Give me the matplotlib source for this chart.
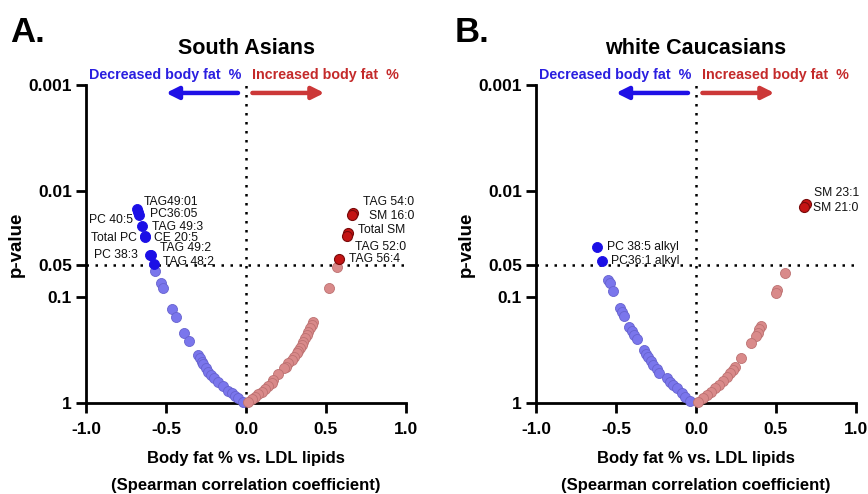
import matplotlib
matplotlib.use('Agg')
import matplotlib.pyplot as plt
import numpy as np

plt.rcParams['axes.unicode_minus'] = False
plt.rcParams['font.family'] = ['Liberation Sans', 'DejaVu Sans']

#%% data: spearman r and -log10(p)
# South Asians
sa_neg_r = [-0.569, -0.533, -0.521, -0.464, -0.4375, -0.386, -0.354, -0.298, -0.2875,
            -0.277, -0.267, -0.25, -0.235, -0.221, -0.2, -0.173, -0.142, -0.111,
            -0.09, -0.069, -0.048, -0.017]
sa_neg_nlp = [1.248, 1.129, 1.082, 0.884, 0.808, 0.663, 0.585, 0.453, 0.422,
              0.390, 0.368, 0.327, 0.295, 0.264, 0.233, 0.201, 0.160, 0.116,
              0.091, 0.066, 0.044, 0.012]
sa_pos_r = [0.571, 0.519, 0.421, 0.41, 0.40, 0.39, 0.379, 0.369, 0.358, 0.348, 0.3375,
            0.327, 0.317, 0.30, 0.286, 0.264, 0.25, 0.2375, 0.202, 0.171, 0.16, 0.14,
            0.119, 0.098, 0.077, 0.056, 0.036, 0.014]
sa_pos_nlp = [1.286, 1.082, 0.767, 0.736, 0.705, 0.673, 0.642, 0.610, 0.578, 0.547, 0.516,
              0.494, 0.469, 0.437, 0.406, 0.374, 0.343, 0.327, 0.271, 0.217, 0.192, 0.160,
              0.129, 0.107, 0.085, 0.059, 0.035, 0.012]
sa_sig_neg_lab = ['TAG49:01', 'PC 40:5', 'PC36:05', 'TAG 49:3', 'Total PC', 'CE 20:5',
                  'PC 38:3', 'TAG 49:2', 'TAG 48:2']
sa_sig_neg_r = [-0.679, -0.673, -0.667, -0.65, -0.634, -0.631, -0.598, -0.596, -0.575]
sa_sig_neg_nlp = [1.827, 1.80, 1.774, 1.670, 1.58, 1.569, 1.40, 1.396, 1.311]
sa_sig_pos_lab = ['TAG 54:0', 'SM 16:0', 'Total SM', 'TAG 52:0', 'TAG 56:4']
sa_sig_pos_r = [0.671, 0.664, 0.639, 0.629, 0.583]
sa_sig_pos_nlp = [1.795, 1.771, 1.607, 1.575, 1.358]

# white Caucasians
wc_neg_r = [-0.548, -0.5375, -0.517, -0.475, -0.464, -0.45, -0.417, -0.402, -0.3875, -0.371,
            -0.325, -0.3125, -0.298, -0.283, -0.267, -0.246, -0.229, -0.183, -0.1625,
            -0.142, -0.121, -0.089, -0.069, -0.0375]
wc_neg_nlp = [1.160, 1.129, 1.059, 0.893, 0.861, 0.821, 0.720, 0.679, 0.642, 0.601,
              0.500, 0.462, 0.431, 0.396, 0.358, 0.318, 0.280, 0.233, 0.201,
              0.170, 0.139, 0.092, 0.059, 0.022]
wc_pos_r = [0.556, 0.508, 0.50, 0.404, 0.396, 0.386, 0.375, 0.344, 0.279, 0.244, 0.229,
            0.2125, 0.192, 0.171, 0.146, 0.119, 0.092, 0.067, 0.042, 0.014]
wc_pos_nlp = [1.224, 1.066, 1.035, 0.726, 0.695, 0.663, 0.632, 0.563, 0.427, 0.342, 0.311,
              0.280, 0.242, 0.210, 0.170, 0.139, 0.107, 0.075, 0.044, 0.012]
wc_sig_neg_lab = ['PC 38:5 alkyl', 'PC36:1 alkyl']
wc_sig_neg_r = [-0.617, -0.589]
wc_sig_neg_nlp = [1.475, 1.340]
wc_sig_pos_lab = ['SM 23:1', 'SM 21:0']
wc_sig_pos_r = [0.686, 0.677]
wc_sig_pos_nlp = [1.877, 1.852]

# label offsets in pixels (dx, dy, ha)
sa_neg_off = [(6, 7, 'left'), (-5, -8, 'right'), (11, 1, 'left'), (10, -1, 'left'),
              (-8, -2, 'right'), (9, -1, 'left'), (-12, 0, 'right'), (9, 7, 'left'),
              (9, 2, 'left')]
sa_pos_off = [(10, 11, 'left'), (17, -1, 'left'), (10, 3, 'left'), (8, -11, 'left'),
              (10, 0, 'left')]
wc_neg_off = [(10, 0, 'left'), (9, 0, 'left')]
wc_pos_off = [(8, 11, 'left'), (9, -1, 'left')]

light_blue = '#7a76ec'
light_red = '#d98a8a'
dark_blue = '#1b0fe6'
dark_red = '#c41414'


def p(nlp):
    return 10 ** (-np.array(nlp))


def panel(ax, title, neg_r, neg_nlp, pos_r, pos_nlp,
          sn_r, sn_nlp, sn_lab, sn_off, sp_r, sp_nlp, sp_lab, sp_off):
    ax.axvline(0, color='black', lw=1.8, ls=(0, (1, 2.6)), zorder=1, clip_on=False)
    ax.axhline(0.05, color='black', lw=1.8, ls=(0, (1, 2.6)), zorder=1)
    ax.scatter(neg_r, p(neg_nlp), s=52, c=light_blue, edgecolors='#6763cf', lw=0.6,
               zorder=3, clip_on=False)
    ax.scatter(pos_r, p(pos_nlp), s=52, c=light_red, edgecolors='#bd7272', lw=0.6,
               zorder=3, clip_on=False)
    ax.scatter(sn_r, p(sn_nlp), s=52, c=dark_blue, edgecolors=dark_blue, lw=0.6, zorder=4)
    ax.scatter(sp_r, p(sp_nlp), s=52, c=dark_red, edgecolors='#780a0a', lw=0.8, zorder=4)
    for xr, yv, lab, (dx, dy, ha) in zip(sn_r, p(sn_nlp), sn_lab, sn_off):
        ax.annotate(lab, (xr, yv), xytext=(dx, dy), textcoords='offset pixels',
                    ha=ha, va='center', fontsize=8.7, color='#111111')
    for xr, yv, lab, (dx, dy, ha) in zip(sp_r, p(sp_nlp), sp_lab, sp_off):
        ax.annotate(lab, (xr, yv), xytext=(dx, dy), textcoords='offset pixels',
                    ha=ha, va='center', fontsize=8.7, color='#111111')

    ax.set_yscale('log')
    ax.set_ylim(1, 0.001)
    ax.set_xlim(-1, 1)
    ax.set_yticks([0.001, 0.01, 0.05, 0.1, 1])
    ax.set_yticklabels(['0.001', '0.01', '0.05', '0.1', '1'])
    ax.yaxis.set_minor_locator(matplotlib.ticker.NullLocator())
    ax.set_xticks([-1.0, -0.5, 0.0, 0.5, 1.0])
    ax.set_xticklabels(['-1.0', '-0.5', '0.0', '0.5', '1.0'])
    for lab in ax.get_xticklabels():
        lab.set_fontweight('bold')
        lab.set_fontsize(12.5)
    for lab in ax.get_yticklabels():
        lab.set_fontweight('bold')
        lab.set_fontsize(12.5)
    ax.tick_params(width=2, length=7)
    ax.tick_params(axis='x', pad=7)
    ax.tick_params(axis='y', pad=3)
    for s in ['top', 'right']:
        ax.spines[s].set_visible(False)
    for s in ['left', 'bottom']:
        ax.spines[s].set_linewidth(2)

    ax.set_title(title, fontsize=15.5, fontweight='bold', pad=22)
    ax.set_xlabel('Body fat % vs. LDL lipids\n(Spearman correlation coefficient)',
                  fontsize=12, fontweight='bold', linespacing=1.95, labelpad=10)
    ax.set_ylabel('p-value', fontsize=13.5, fontweight='bold', labelpad=3)

    tr = ('data', 'axes fraction')
    ax.annotate('Decreased body fat  %', (-0.03, 1.03), xycoords=tr, ha='right',
                va='center', fontsize=10.3, fontweight='bold',
                color='#2a1ee0', annotation_clip=False)
    ax.annotate('Increased body fat  %', (0.04, 1.03), xycoords=tr, ha='left',
                va='center', fontsize=10.3, fontweight='bold',
                color='#c42a2a', annotation_clip=False)
    ax.annotate('', xy=(-0.5, 0.975), xytext=(-0.05, 0.975), xycoords=tr,
                arrowprops=dict(arrowstyle='-|>', color='#1f10e6', lw=3.2,
                                mutation_scale=18, shrinkA=0, shrinkB=0),
                annotation_clip=False)
    ax.annotate('', xy=(0.49, 0.975), xytext=(0.04, 0.975), xycoords=tr,
                arrowprops=dict(arrowstyle='-|>', color='#cc3838', lw=3.2,
                                mutation_scale=18, shrinkA=0, shrinkB=0),
                annotation_clip=False)


fig = plt.figure(figsize=(8.68, 4.94), dpi=100)
ax1 = fig.add_axes([86 / 868, 91 / 494, 320 / 868, 318 / 494])
ax2 = fig.add_axes([536 / 868, 91 / 494, 320 / 868, 318 / 494])

panel(ax1, 'South Asians', sa_neg_r, sa_neg_nlp, sa_pos_r, sa_pos_nlp,
      sa_sig_neg_r, sa_sig_neg_nlp, sa_sig_neg_lab, sa_neg_off,
      sa_sig_pos_r, sa_sig_pos_nlp, sa_sig_pos_lab, sa_pos_off)
panel(ax2, 'white Caucasians', wc_neg_r, wc_neg_nlp, wc_pos_r, wc_pos_nlp,
      wc_sig_neg_r, wc_sig_neg_nlp, wc_sig_neg_lab, wc_neg_off,
      wc_sig_pos_r, wc_sig_pos_nlp, wc_sig_pos_lab, wc_pos_off)

fig.text(10 / 868, 1 - 32 / 494, 'A.', fontsize=25, fontweight='bold', va='center')
fig.text(455 / 868, 1 - 32 / 494, 'B.', fontsize=25, fontweight='bold', va='center')

fig.savefig('out.png', dpi=100)
